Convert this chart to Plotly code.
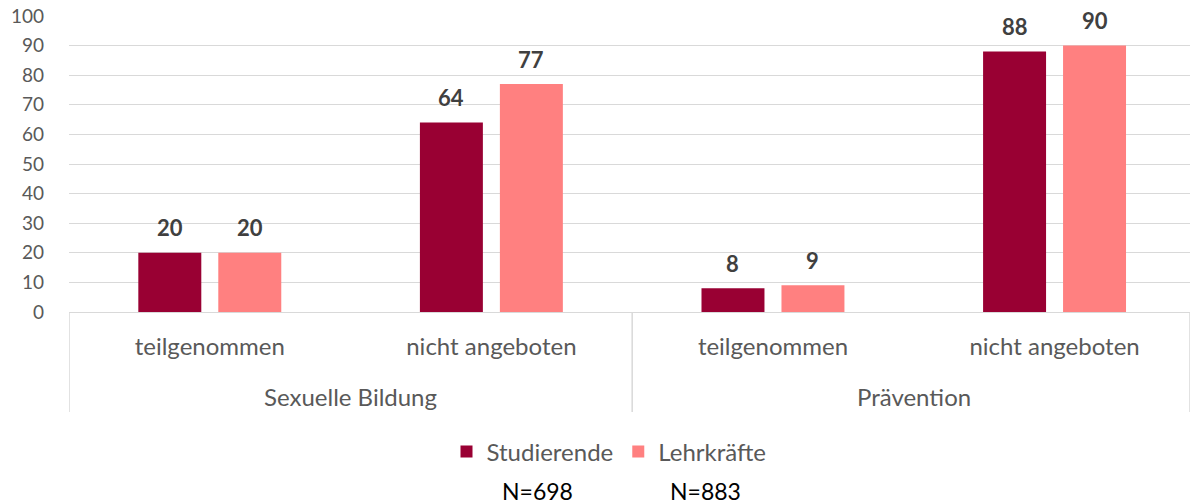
import plotly.graph_objects as go

groups = ["Sexuelle Bildung", "Prävention"]
subcats = ["teilgenommen", "nicht angeboten", "teilgenommen", "nicht angeboten"]
cat_keys = ["Sexuelle Bildung|teilgenommen", "Sexuelle Bildung|nicht angeboten",
            "Prävention|teilgenommen", "Prävention|nicht angeboten"]
studierende = [20, 64, 8, 88]
lehrkraefte = [20, 77, 9, 90]
series_names = ["Studierende", "Lehrkräfte"]
n_labels = ["N=698", "N=883"]
yticks = list(range(0, 101, 10))

FONT = "Lato"
GRID = "#d9d9d9"
L, T, B = 69, 16, 192
PLOT_H = 504 - T - B
PLOT_W = 1190 - L

fig = go.Figure()
series = [(series_names[0], studierende, "#990033", -40),
          (series_names[1], lehrkraefte, "#FF8080", 40)]
for name, vals, col, dx in series:
    fig.add_trace(go.Bar(x=cat_keys, y=vals, name=name, marker_color=col,
                         marker_line_width=0))
    for k, v in zip(cat_keys, vals):
        fig.add_annotation(x=k, y=v, text=f"<b>{v}</b>", showarrow=False,
                           xshift=dx, yshift=25, yanchor="middle", xanchor="center",
                           font=dict(family=FONT, size=22, color="#404040"))

fig.update_layout(
    width=1190, height=504,
    margin=dict(l=L, r=0, t=T, b=B, autoexpand=False),
    plot_bgcolor="white", paper_bgcolor="white",
    barmode="group", bargap=0.432, bargroupgap=0.2125,
    font=dict(family=FONT, size=24, color="#595959"),
    legend=dict(orientation="h", x=(609 - L) / PLOT_W, xanchor="center",
                y=-(452 - 312) / PLOT_H, yanchor="middle",
                font=dict(family=FONT, size=24, color="#595959"),
                itemwidth=30, tracegroupgap=0),
    showlegend=True,
)
fig.update_yaxes(range=[0, 100], tickvals=yticks, showgrid=True, gridcolor=GRID,
                 gridwidth=1.3, zeroline=False, showline=False, ticks="",
                 automargin=False, ticklabelstandoff=24,
                 tickfont=dict(family=FONT, size=19, color="#595959"))
fig.update_xaxes(type="category", tickvals=cat_keys, ticktext=subcats,
                 range=[-0.5, 3.481],
                 showline=True, linecolor=GRID, linewidth=1.3, ticks="",
                 showgrid=False, automargin=False, ticklabelstandoff=13,
                 tickfont=dict(family=FONT, size=24, color="#595959"))

# group labels and dividers of the two-level category axis
for gi, g in enumerate(groups):
    fig.add_annotation(x=gi * 2 + 0.5, xref="x", y=-(396 - 312) / PLOT_H, yref="paper",
                       text=g, showarrow=False, xanchor="center", yanchor="middle",
                       font=dict(family=FONT, size=24, color="#595959"))
for xd in [-0.5, 1.5, 3.481]:
    fig.add_shape(type="line", xref="x", yref="paper", x0=xd, x1=xd, y0=0,
                  y1=-(412 - 312) / PLOT_H, line=dict(color=GRID, width=1.5))

for i, t in enumerate(n_labels):
    fig.add_annotation(text=t, xref="paper", yref="paper",
                       x=(537 - L + i * 168) / PLOT_W,
                       y=-(491 - 312) / PLOT_H, xanchor="center", yanchor="middle",
                       showarrow=False, font=dict(family=FONT, size=23, color="#000000"))

fig.write_html("out.html", config={"displayModeBar": False},
               post_script="document.body.style.margin='0';")
